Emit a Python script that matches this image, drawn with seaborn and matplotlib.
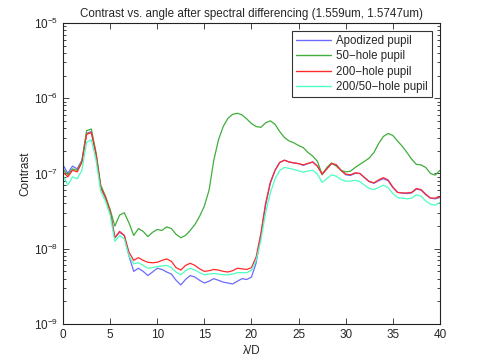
import numpy as np
import pandas as pd
import seaborn as sns
import matplotlib.pyplot as plt
from matplotlib.ticker import LogLocator, NullFormatter

# angular separation grid (lambda/D)
lam = [i * 0.5 for i in range(81)]

apodized = [1.3e-7, 1.0e-7, 1.25e-7, 1.15e-7, 1.5e-7, 3.4e-7, 3.6e-7, 1.8e-7, 6.5e-8, 4.8e-8,
            3.2e-8, 1.4e-8, 1.65e-8, 1.5e-8, 8e-9, 5.0e-9, 5.5e-9, 5.0e-9, 4.4e-9, 4.9e-9,
            5.5e-9, 5.3e-9, 4.9e-9, 4.6e-9, 3.8e-9, 3.3e-9, 3.9e-9, 4.4e-9, 4.2e-9, 3.8e-9,
            3.5e-9, 3.7e-9, 4.0e-9, 3.8e-9, 3.6e-9, 3.5e-9, 3.4e-9, 3.7e-9, 4.0e-9, 3.9e-9,
            4.2e-9, 6.5e-9, 1.5e-8, 3.8e-8, 7.4e-8, 1.1e-7, 1.4e-7, 1.5e-7, 1.42e-7, 1.38e-7,
            1.35e-7, 1.28e-7, 1.35e-7, 1.42e-7, 1.25e-7, 9.8e-8, 1.15e-7, 1.35e-7, 1.3e-7, 1.1e-7,
            9.6e-8, 9.4e-8, 1.0e-7, 1.0e-7, 8.8e-8, 7.8e-8, 7.4e-8, 8.0e-8, 8.5e-8, 8.0e-8,
            6.5e-8, 5.6e-8, 5.5e-8, 5.4e-8, 5.5e-8, 6.2e-8, 6.0e-8, 5.2e-8, 4.7e-8, 4.6e-8,
            4.8e-8]

hole50 = [1.15e-7, 9.5e-8, 1.15e-7, 1.1e-7, 1.45e-7, 3.7e-7, 3.9e-7, 1.9e-7, 7e-8, 5e-8,
          3.3e-8, 2.0e-8, 2.8e-8, 3.0e-8, 2.2e-8, 1.5e-8, 1.85e-8, 1.7e-8, 1.45e-8, 1.65e-8,
          1.8e-8, 1.75e-8, 1.95e-8, 1.85e-8, 1.55e-8, 1.4e-8, 1.5e-8, 1.75e-8, 2.1e-8, 2.7e-8,
          3.7e-8, 6e-8, 1.5e-7, 2.8e-7, 4.2e-7, 5.4e-7, 6.1e-7, 6.3e-7, 6.0e-7, 5.3e-7,
          4.6e-7, 4.2e-7, 4.1e-7, 4.7e-7, 5.0e-7, 4.5e-7, 3.6e-7, 3.0e-7, 2.7e-7, 2.55e-7,
          2.35e-7, 2.2e-7, 1.9e-7, 1.7e-7, 1.45e-7, 9.6e-8, 1.2e-7, 1.38e-7, 1.25e-7, 1.1e-7,
          1.05e-7, 1.07e-7, 1.2e-7, 1.32e-7, 1.45e-7, 1.6e-7, 1.9e-7, 2.5e-7, 3.1e-7, 3.4e-7,
          3.2e-7, 2.7e-7, 2.3e-7, 1.9e-7, 1.55e-7, 1.32e-7, 1.3e-7, 1.2e-7, 1.0e-7, 9.5e-8,
          1.1e-7]

hole200 = [1.05e-7, 9e-8, 1.1e-7, 1.05e-7, 1.4e-7, 3.3e-7, 3.5e-7, 1.8e-7, 6.5e-8, 4.8e-8,
           3.1e-8, 1.4e-8, 1.7e-8, 1.5e-8, 9e-9, 7.0e-9, 7.6e-9, 7.0e-9, 6.6e-9, 6.5e-9,
           6.6e-9, 7.0e-9, 7.3e-9, 6.8e-9, 5.6e-9, 5.2e-9, 6.0e-9, 6.4e-9, 6.0e-9, 5.4e-9,
           5.0e-9, 5.1e-9, 5.3e-9, 5.2e-9, 5.0e-9, 4.9e-9, 5.1e-9, 5.5e-9, 5.4e-9, 5.3e-9,
           5.6e-9, 7.8e-9, 1.6e-8, 4.0e-8, 7.6e-8, 1.1e-7, 1.4e-7, 1.5e-7, 1.42e-7, 1.38e-7,
           1.35e-7, 1.3e-7, 1.36e-7, 1.42e-7, 1.25e-7, 9.8e-8, 1.15e-7, 1.36e-7, 1.3e-7, 1.1e-7,
           9.8e-8, 9.6e-8, 1.02e-7, 1.0e-7, 8.8e-8, 7.8e-8, 7.5e-8, 8.2e-8, 8.8e-8, 8.2e-8,
           6.6e-8, 5.6e-8, 5.5e-8, 5.5e-8, 5.6e-8, 6.3e-8, 6.1e-8, 5.3e-8, 4.7e-8, 4.7e-8,
           4.9e-8]

hole200_50 = [9.5e-8, 7e-8, 9e-8, 8.5e-8, 1.1e-7, 2.6e-7, 2.8e-7, 1.5e-7, 5.8e-8, 4.3e-8,
              2.8e-8, 1.25e-8, 1.5e-8, 1.35e-8, 8e-9, 6.3e-9, 6.5e-9, 6.0e-9, 5.5e-9, 5.6e-9,
              5.8e-9, 5.9e-9, 6.0e-9, 5.6e-9, 4.9e-9, 4.5e-9, 5.1e-9, 5.5e-9, 5.2e-9, 4.8e-9,
              4.5e-9, 4.6e-9, 4.7e-9, 4.6e-9, 4.5e-9, 4.5e-9, 4.6e-9, 4.8e-9, 4.8e-9, 4.8e-9,
              5.2e-9, 7e-9, 1.3e-8, 3.0e-8, 5.5e-8, 8.5e-8, 1.1e-7, 1.2e-7, 1.17e-7, 1.13e-7,
              1.08e-7, 1.04e-7, 1.08e-7, 1.1e-7, 9.8e-8, 7.6e-8, 8.5e-8, 9.6e-8, 9.2e-8, 8.3e-8,
              7.9e-8, 7.9e-8, 8.1e-8, 7.8e-8, 7.0e-8, 6.3e-8, 6.1e-8, 6.5e-8, 7.0e-8, 6.5e-8,
              5.4e-8, 4.8e-8, 4.7e-8, 4.6e-8, 4.7e-8, 5.2e-8, 5.0e-8, 4.3e-8, 3.9e-8, 3.8e-8,
              4.1e-8]

names = ["Apodized pupil", "50\u2212hole pupil", "200\u2212hole pupil", "200/50\u2212hole pupil"]
colors = ["#6b6bff", "#3fae3a", "#ff2a2a", "#4dffc0"]

frames = []
for name, vals in zip(names, [apodized, hole50, hole200, hole200_50]):
    frames.append(pd.DataFrame({"lam": lam, "contrast": vals, "pupil": name}))
df = pd.concat(frames, ignore_index=True)

sns.set_style("ticks")
plt.rcParams["font.family"] = ["Liberation Sans", "DejaVu Sans"]

fig = plt.figure(figsize=(4.85, 3.64), dpi=100)
ax = fig.add_axes([0.130, 0.110, 0.777, 0.827])

sns.lineplot(data=df, x="lam", y="contrast", hue="pupil", hue_order=names,
             palette=colors, linewidth=0.9, ax=ax)

ax.set_yscale("log")
ax.set_xlim(0, 40)
ax.set_ylim(1e-9, 1e-5)
ax.set_xticks(range(0, 41, 5))
ax.yaxis.set_major_locator(LogLocator(base=10, numticks=10))
ax.yaxis.set_minor_locator(LogLocator(base=10, subs=np.arange(2, 10), numticks=20))
ax.yaxis.set_minor_formatter(NullFormatter())
ax.tick_params(which="both", direction="in", top=True, right=True, labelsize=8.5, width=0.6)
ax.tick_params(which="major", length=4)
ax.tick_params(which="minor", length=2)
for sp in ax.spines.values():
    sp.set_linewidth(0.8)
    sp.set_color("#222222")

ax.set_xlabel("\u03bb/D", fontsize=8.5, labelpad=3)
ax.set_ylabel("Contrast", fontsize=8.5, labelpad=2)
ax.set_title("Contrast vs. angle after spectral differencing (1.559um, 1.5747um)", fontsize=8.4, pad=4)

leg = ax.legend(loc="upper right", fontsize=8.3, frameon=True, fancybox=False,
                borderpad=0.35, labelspacing=0.3, handlelength=3.1, handletextpad=0.4,
                borderaxespad=0.7)
leg.get_frame().set_edgecolor("black")
leg.get_frame().set_linewidth(0.8)
for line in leg.get_lines():
    line.set_linewidth(1.0)

fig.savefig("out.png", dpi=100)
